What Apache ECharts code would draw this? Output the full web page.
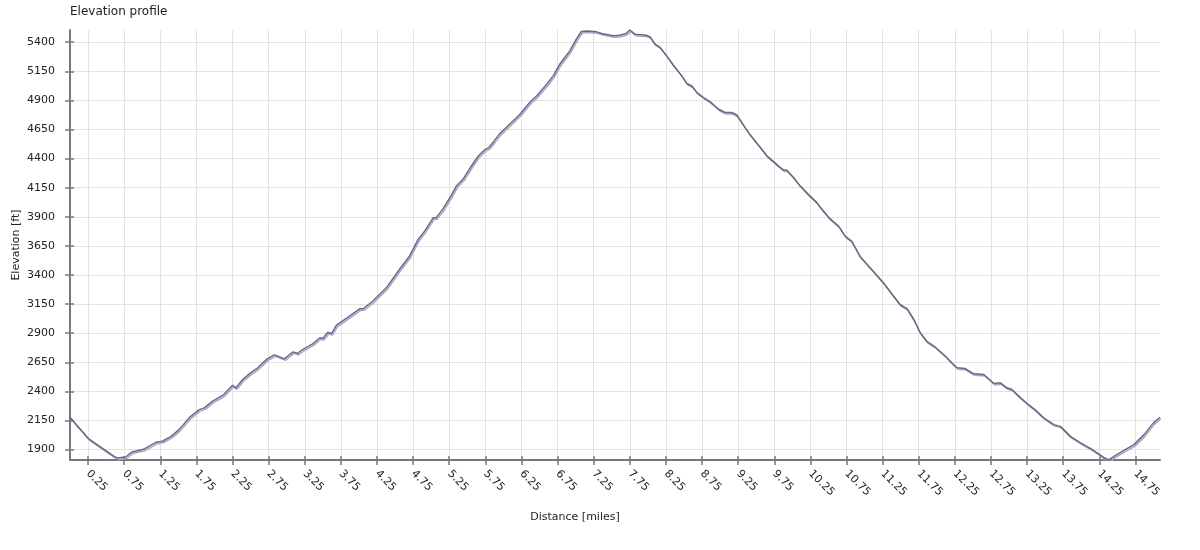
<!DOCTYPE html>
<html>
<head>
<meta charset="utf-8">
<title>Elevation profile</title>
<script src="https://cdn.jsdelivr.net/npm/echarts@6/dist/echarts.min.js"></script>
<style>
  html, body { margin: 0; padding: 0; background: #fff; }
  #chart { width: 1200px; height: 550px; }
</style>
</head>
<body>
<div id="chart"></div>
<script>
// distance along the route [miles]
const distance = [
  0.00, 0.10, 0.26, 0.42, 0.61, 0.66, 0.77, 0.86, 1.03, 1.19, 1.28, 1.40, 1.51, 1.67, 1.79, 1.86, 1.97,
  2.13, 2.25, 2.30, 2.39, 2.50, 2.60, 2.73, 2.83, 2.97, 3.04, 3.09, 3.15, 3.22, 3.36, 3.46, 3.50, 3.57,
  3.62, 3.69, 3.85, 4.01, 4.06, 4.19, 4.38, 4.56, 4.70, 4.82, 4.91, 5.03, 5.07, 5.16, 5.26, 5.35, 5.44,
  5.55, 5.65, 5.75, 5.80, 5.87, 5.95, 6.04, 6.23, 6.37, 6.46, 6.60, 6.69, 6.78, 6.92, 7.01, 7.08, 7.15,
  7.29, 7.36, 7.52, 7.61, 7.70, 7.75, 7.82, 7.98, 8.03, 8.10, 8.17, 8.26, 8.35, 8.47, 8.54, 8.61, 8.68,
  8.77, 8.86, 8.98, 9.07, 9.16, 9.23, 9.30, 9.41, 9.53, 9.65, 9.74, 9.81, 9.88, 9.92, 10.01, 10.11, 10.22,
  10.34, 10.38, 10.52, 10.64, 10.73, 10.82, 10.94, 11.12, 11.26, 11.35, 11.49, 11.59, 11.68, 11.77, 11.86,
  11.98, 12.12, 12.23, 12.28, 12.39, 12.51, 12.65, 12.74, 12.79, 12.88, 12.97, 13.04, 13.16, 13.25, 13.36,
  13.48, 13.62, 13.71, 13.85, 13.99, 14.13, 14.22, 14.31, 14.38, 14.47, 14.59, 14.73, 14.87, 15.00, 15.09
];

// elevation [ft]
const elevation = [
  2178, 2106, 1992, 1923, 1842, 1829, 1837, 1880, 1906, 1963, 1972, 2014, 2072, 2186, 2244, 2259, 2315,
  2373, 2453, 2431, 2502, 2560, 2603, 2680, 2714, 2680, 2717, 2740, 2726, 2760, 2809, 2861, 2855, 2909,
  2897, 2969, 3038, 3110, 3110, 3175, 3290, 3448, 3562, 3706, 3777, 3893, 3893, 3964, 4065, 4164, 4222,
  4330, 4420, 4480, 4495, 4550, 4615, 4667, 4781, 4887, 4938, 5039, 5111, 5211, 5325, 5426, 5492, 5497,
  5489, 5475, 5455, 5460, 5475, 5505, 5469, 5460, 5446, 5383, 5355, 5283, 5204, 5111, 5045, 5024, 4967,
  4925, 4890, 4824, 4796, 4796, 4775, 4709, 4609, 4517, 4422, 4374, 4336, 4302, 4302, 4242, 4164, 4093,
  4022, 3987, 3884, 3820, 3734, 3691, 3557, 3433, 3334, 3261, 3147, 3110, 3018, 2904, 2831,
  2780, 2702, 2631, 2603, 2597, 2551, 2545, 2496, 2468, 2474, 2431, 2416, 2345, 2296, 2244,
  2173, 2115, 2100, 2014, 1958, 1909, 1872, 1834, 1811, 1848, 1894, 1943, 2029, 2130, 2178
];

const xTicks = [
  0.25, 0.75, 1.25, 1.75, 2.25, 2.75, 3.25, 3.75, 4.25, 4.75, 5.25, 5.75, 6.25, 6.75, 7.25,
  7.75, 8.25, 8.75, 9.25, 9.75, 10.25, 10.75, 11.25, 11.75, 12.25, 12.75, 13.25, 13.75, 14.25, 14.75
];
const yTicks = [1900, 2150, 2400, 2650, 2900, 3150, 3400, 3650, 3900, 4150, 4400, 4650, 4900, 5150, 5400];

const xMin = 0, xMax = 15.09;
const yMin = 1811, yMax = 5505;

const font = 'DejaVu Sans';
const axisColor = '#77777f';

const chart = echarts.init(document.getElementById('chart'), null, { renderer: 'canvas' });

const option = {
  animation: false,
  title: {
    text: 'Elevation profile',
    left: 65,
    top: 1,
    textStyle: { fontFamily: font, fontSize: 12, fontWeight: 'normal', color: '#222' }
  },
  grid: { left: 70, right: 40, top: 30, bottom: 90, containLabel: false, outerBoundsMode: 'none' },
  xAxis: [
    {
      type: 'value',
      min: xMin,
      max: xMax,
      name: 'Distance [miles]',
      nameLocation: 'middle',
      nameGap: 52,
      nameTextStyle: { fontFamily: font, fontSize: 11, color: '#222', padding: [0, 80, 0, 0] },
      axisLine: { show: true, onZero: false, lineStyle: { color: axisColor, width: 2 } },
      axisTick: { show: true, length: 5, customValues: xTicks, lineStyle: { color: axisColor, width: 1.5 } },
      axisLabel: {
        customValues: xTicks,
        rotate: -45,
        margin: 12,
        fontFamily: font,
        fontSize: 11,
        color: '#222',
        formatter: (v) => v.toFixed(2)
      },
      splitLine: { show: true, lineStyle: { color: '#e3e3e3', width: 1 } }
    },
    {
      // inner half of the tick marks
      type: 'value',
      min: xMin,
      max: xMax,
      position: 'bottom',
      axisLine: { show: false, onZero: false },
      axisTick: { show: true, inside: true, length: 4, customValues: xTicks, lineStyle: { color: axisColor, width: 1.5 } },
      axisLabel: { show: false },
      splitLine: { show: false }
    }
  ],
  yAxis: [
    {
      type: 'value',
      min: yMin,
      max: yMax,
      name: 'Elevation [ft]',
      nameLocation: 'middle',
      nameGap: 48,
      nameMoveOverlap: false,
      nameTextStyle: { fontFamily: font, fontSize: 11, color: '#222' },
      axisLine: { show: true, onZero: false, lineStyle: { color: axisColor, width: 2 } },
      axisTick: { show: true, length: 5, customValues: yTicks, lineStyle: { color: axisColor, width: 1.5 } },
      axisLabel: {
        customValues: yTicks,
        margin: 15,
        fontFamily: font,
        fontSize: 11,
        color: '#222',
        formatter: (v) => String(v)
      },
      splitLine: { show: true, lineStyle: { color: '#e3e3e3', width: 1 } }
    },
    {
      type: 'value',
      min: yMin,
      max: yMax,
      position: 'left',
      axisLine: { show: false, onZero: false },
      axisTick: { show: true, inside: true, length: 4, customValues: yTicks, lineStyle: { color: axisColor, width: 1.5 } },
      axisLabel: { show: false },
      splitLine: { show: false }
    }
  ],
  series: [
    {
      type: 'line',
      data: distance.map((d, i) => [d, elevation[i]]),
      showSymbol: false,
      smooth: false,
      clip: true,
      lineStyle: {
        color: '#6a6a78',
        width: 1.5,
        shadowColor: '#a3a3d6',
        shadowBlur: 0,
        shadowOffsetX: 1,
        shadowOffsetY: 1.5
      }
    }
  ]
};

chart.setOption(option);
</script>
</body>
</html>
